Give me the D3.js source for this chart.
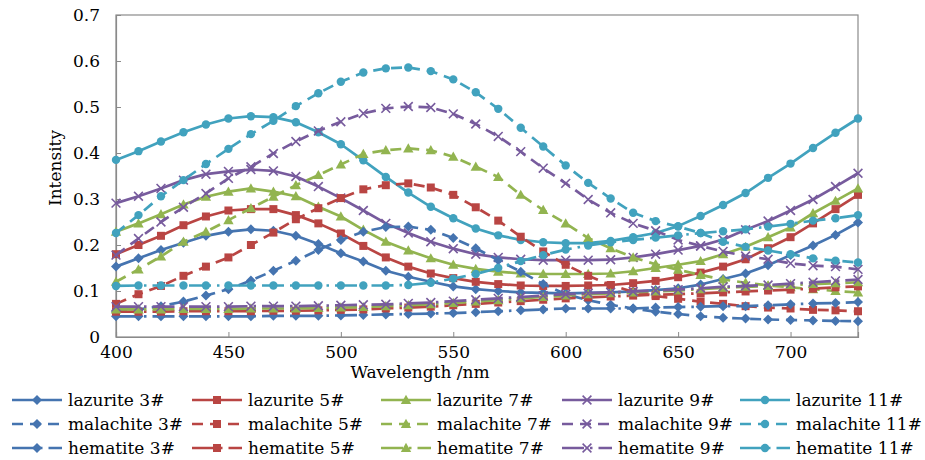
<!DOCTYPE html>
<html>
<head>
<meta charset="utf-8">
<script src="https://cdn.jsdelivr.net/npm/d3@7"></script>
<style>
  html, body { margin: 0; padding: 0; background: #fff; }
  svg { display: block; }
  text { font-family: "DejaVu Serif", serif; fill: #000; }
</style>
</head>
<body>
<svg id="chart" width="925" height="460"></svg>
<script>
// ---------- data ----------
const wavelengths = [400,410,420,430,440,450,460,470,480,490,500,510,520,530,540,550,560,570,580,590,600,610,620,630,640,650,660,670,680,690,700,710,720,730];
const xTickValues = [400,450,500,550,600,650,700];
const yTickValues = [0,0.1,0.2,0.3,0.4,0.5,0.6,0.7];

const lazurite3  = [0.153,0.171,0.189,0.205,0.220,0.229,0.234,0.231,0.220,0.202,0.182,0.164,0.144,0.131,0.120,0.110,0.104,0.100,0.097,0.096,0.095,0.096,0.097,0.099,0.102,0.106,0.114,0.126,0.138,0.156,0.178,0.199,0.222,0.249];
const lazurite5  = [0.180,0.200,0.220,0.243,0.262,0.275,0.278,0.278,0.265,0.247,0.225,0.198,0.173,0.153,0.138,0.128,0.120,0.115,0.112,0.111,0.111,0.112,0.113,0.117,0.122,0.130,0.140,0.153,0.169,0.193,0.217,0.247,0.278,0.309];
const lazurite7  = [0.229,0.247,0.267,0.288,0.305,0.316,0.323,0.316,0.306,0.283,0.262,0.233,0.207,0.188,0.171,0.157,0.148,0.142,0.138,0.137,0.137,0.137,0.138,0.143,0.150,0.157,0.165,0.180,0.196,0.217,0.238,0.269,0.296,0.323];
const lazurite9  = [0.291,0.306,0.323,0.341,0.354,0.360,0.364,0.361,0.349,0.327,0.302,0.275,0.247,0.226,0.207,0.192,0.180,0.173,0.169,0.167,0.167,0.167,0.168,0.173,0.180,0.189,0.198,0.212,0.233,0.252,0.275,0.299,0.327,0.356];
const lazurite11 = [0.385,0.404,0.425,0.445,0.462,0.475,0.480,0.478,0.467,0.445,0.419,0.384,0.348,0.314,0.283,0.258,0.236,0.221,0.211,0.206,0.204,0.204,0.209,0.217,0.226,0.241,0.263,0.287,0.313,0.346,0.377,0.411,0.444,0.475];

const malachite3  = [0.055,0.060,0.067,0.077,0.090,0.104,0.123,0.144,0.166,0.189,0.211,0.229,0.239,0.240,0.233,0.215,0.193,0.167,0.142,0.115,0.093,0.080,0.070,0.062,0.055,0.050,0.045,0.042,0.040,0.038,0.037,0.036,0.035,0.034];
const malachite5  = [0.072,0.093,0.111,0.133,0.153,0.173,0.200,0.227,0.256,0.280,0.302,0.321,0.330,0.334,0.325,0.309,0.282,0.253,0.218,0.186,0.157,0.133,0.113,0.098,0.089,0.083,0.077,0.072,0.067,0.064,0.062,0.059,0.058,0.056];
const malachite7  = [0.120,0.147,0.175,0.207,0.229,0.254,0.280,0.305,0.330,0.352,0.375,0.398,0.406,0.410,0.406,0.392,0.370,0.348,0.309,0.276,0.247,0.215,0.193,0.173,0.158,0.146,0.135,0.125,0.118,0.112,0.108,0.104,0.100,0.097];
const malachite9  = [0.178,0.214,0.250,0.282,0.312,0.345,0.370,0.399,0.425,0.448,0.468,0.486,0.497,0.501,0.499,0.485,0.463,0.436,0.403,0.367,0.334,0.299,0.270,0.247,0.231,0.211,0.198,0.186,0.176,0.169,0.160,0.155,0.153,0.147];
const malachite11 = [0.226,0.265,0.306,0.341,0.376,0.409,0.441,0.470,0.502,0.530,0.555,0.575,0.584,0.586,0.578,0.560,0.532,0.496,0.455,0.414,0.373,0.335,0.301,0.270,0.252,0.240,0.226,0.207,0.196,0.188,0.180,0.171,0.166,0.162];

const hematite3  = [0.045,0.045,0.045,0.045,0.045,0.045,0.045,0.046,0.046,0.046,0.047,0.048,0.049,0.050,0.051,0.052,0.054,0.056,0.058,0.060,0.062,0.062,0.062,0.062,0.064,0.065,0.066,0.067,0.067,0.069,0.071,0.073,0.074,0.076];
const hematite5  = [0.055,0.055,0.055,0.056,0.056,0.056,0.056,0.057,0.057,0.058,0.059,0.060,0.062,0.064,0.066,0.069,0.072,0.075,0.078,0.081,0.084,0.086,0.088,0.090,0.092,0.093,0.095,0.097,0.099,0.101,0.103,0.105,0.108,0.110];
const hematite7  = [0.060,0.060,0.060,0.061,0.061,0.061,0.062,0.062,0.062,0.063,0.064,0.065,0.067,0.069,0.071,0.074,0.077,0.080,0.084,0.087,0.090,0.093,0.095,0.097,0.099,0.101,0.104,0.107,0.109,0.111,0.113,0.115,0.117,0.119];
const hematite9  = [0.066,0.066,0.066,0.066,0.066,0.066,0.067,0.067,0.067,0.068,0.069,0.070,0.071,0.073,0.075,0.078,0.081,0.084,0.087,0.090,0.093,0.095,0.097,0.099,0.101,0.103,0.106,0.109,0.111,0.113,0.116,0.119,0.122,0.125];
const hematite11 = [0.111,0.112,0.112,0.112,0.112,0.112,0.112,0.112,0.112,0.112,0.112,0.112,0.112,0.113,0.118,0.127,0.137,0.150,0.165,0.178,0.190,0.199,0.206,0.211,0.216,0.221,0.226,0.230,0.234,0.240,0.246,0.253,0.258,0.265];

const seriesNames = ["lazurite 3#","lazurite 5#","lazurite 7#","lazurite 9#","lazurite 11#",
                     "malachite 3#","malachite 5#","malachite 7#","malachite 9#","malachite 11#",
                     "hematite 3#","hematite 5#","hematite 7#","hematite 9#","hematite 11#"];
const seriesValues = [lazurite3,lazurite5,lazurite7,lazurite9,lazurite11,
                      malachite3,malachite5,malachite7,malachite9,malachite11,
                      hematite3,hematite5,hematite7,hematite9,hematite11];

// ---------- styles ----------
const colors = ["#4574B0","#B94543","#92B450","#775B9D","#41A2BE"];
const markers = ["diamond","square","triangle","x","circle"];
const dashes = [null, "11,7", "22,6,2.5,6"];

// ---------- layout ----------
const svg = d3.select("#chart");
const plot = {left: 116, right: 858, top: 15, bottom: 337};

const x = d3.scaleLinear().domain([400, 730]).range([plot.left, plot.right]);
const y = d3.scaleLinear().domain([0, 0.7]).range([plot.bottom, plot.top]);

const axisColor = "#8a8a8a";

svg.append("rect")
  .attr("x", plot.left).attr("y", plot.top)
  .attr("width", plot.right - plot.left).attr("height", plot.bottom - plot.top)
  .attr("fill", "none").attr("stroke", axisColor).attr("stroke-width", 1.2);

const xAxis = d3.axisBottom(x).tickValues(xTickValues).tickSize(-5).tickPadding(9).tickFormat(d3.format("d"));
const gx = svg.append("g").attr("transform", `translate(0,${plot.bottom})`).call(xAxis);
gx.select(".domain").attr("stroke", axisColor).attr("stroke-width", 1.2);
gx.selectAll(".tick line").attr("stroke", axisColor);
gx.selectAll(".tick text").attr("font-size", 17).attr("fill", "#000");

const yAxis = d3.axisLeft(y).tickValues(yTickValues).tickSize(-5).tickPadding(16)
  .tickFormat(d => d === 0 ? "0" : d3.format(".1f")(d));
const gy = svg.append("g").attr("transform", `translate(${plot.left},0)`).call(yAxis);
gy.select(".domain").attr("stroke", axisColor).attr("stroke-width", 1.2);
gy.selectAll(".tick line").attr("stroke", axisColor);
gy.selectAll(".tick text").attr("font-size", 17).attr("fill", "#000");
svg.selectAll("g.tick text").style("font-family", "'DejaVu Serif', serif");

svg.append("text").attr("x", 420).attr("y", 378).attr("text-anchor", "middle")
  .attr("font-size", 17).text("Wavelength /nm");
svg.append("text").attr("transform", "translate(61,168) rotate(-90)").attr("text-anchor", "middle")
  .attr("font-size", 17).text("Intensity");

function drawMarker(g, type, color, cx, cy) {
  if (type === "diamond") {
    g.append("path").attr("d", `M${cx},${cy-5}L${cx+5},${cy}L${cx},${cy+5}L${cx-5},${cy}Z`).attr("fill", color);
  } else if (type === "square") {
    g.append("rect").attr("x", cx-4).attr("y", cy-4).attr("width", 8).attr("height", 8).attr("fill", color);
  } else if (type === "triangle") {
    g.append("path").attr("d", `M${cx},${cy-5.2}L${cx+5.2},${cy+4}L${cx-5.2},${cy+4}Z`).attr("fill", color);
  } else if (type === "x") {
    g.append("path").attr("d", `M${cx-4.4},${cy-4.4}L${cx+4.4},${cy+4.4}M${cx-4.4},${cy+4.4}L${cx+4.4},${cy-4.4}`)
      .attr("stroke", color).attr("stroke-width", 1.6).attr("fill", "none");
  } else {
    g.append("circle").attr("cx", cx).attr("cy", cy).attr("r", 4.2).attr("fill", color);
  }
}

const line = d3.line().x(d => x(d[0])).y(d => y(d[1]));

const plotG = svg.append("g");
seriesValues.forEach((vals, i) => {
  const color = colors[i % 5];
  const dash = dashes[Math.floor(i / 5)];
  const pts = wavelengths.map((w, j) => [w, vals[j]]);
  const g = plotG.append("g");
  g.append("path").attr("d", line(pts)).attr("fill", "none")
    .attr("stroke", color).attr("stroke-width", 2.7)
    .attr("stroke-dasharray", dash).attr("stroke-linejoin", "round");
  pts.forEach(p => drawMarker(g, markers[i % 5], color, x(p[0]), y(p[1])));
});

const legendColX = [12, 192, 381, 562, 740];
const legendRowY = [400, 424, 448];
const legend = svg.append("g");
seriesNames.forEach((name, i) => {
  const cx = legendColX[i % 5], cy = legendRowY[Math.floor(i / 5)];
  const color = colors[i % 5];
  const g = legend.append("g");
  g.append("line").attr("x1", cx).attr("x2", cx + 50).attr("y1", cy).attr("y2", cy)
    .attr("stroke", color).attr("stroke-width", 2.7).attr("stroke-dasharray", dashes[Math.floor(i / 5)]);
  drawMarker(g, markers[i % 5], color, cx + 25, cy);
  g.append("text").attr("x", cx + 56).attr("y", cy + 6).attr("font-size", 17).text(name);
});
</script>
</body>
</html>
